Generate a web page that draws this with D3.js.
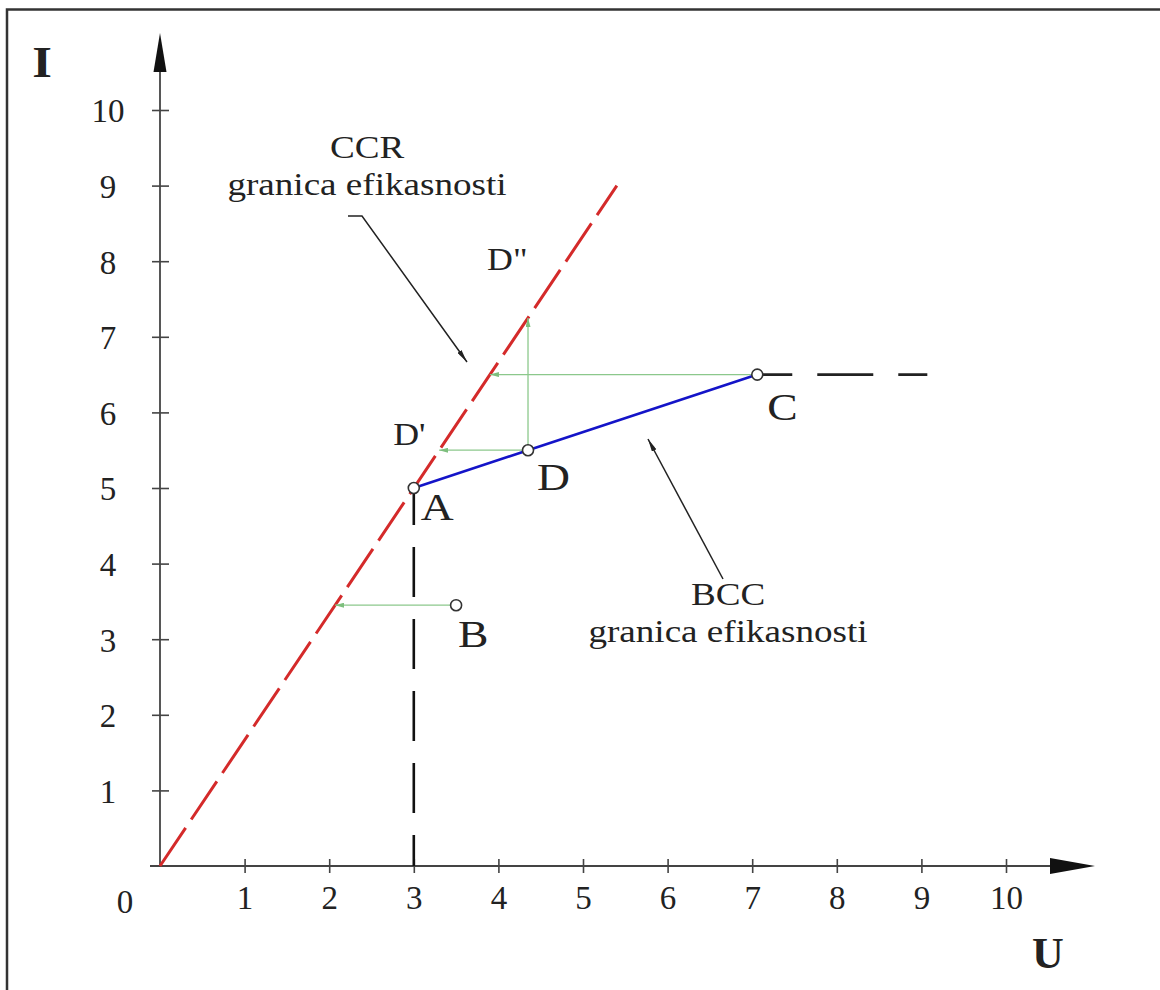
<!DOCTYPE html>
<html>
<head>
<meta charset="utf-8">
<script src="https://cdn.jsdelivr.net/npm/d3@7"></script>
<style>
  html, body { margin: 0; padding: 0; background: #ffffff; }
  svg { display: block; }
  text { font-family: "Liberation Serif", "Times New Roman", serif; fill: #222; }
</style>
</head>
<body>
<svg id="chart" width="1160" height="990"></svg>
<script>
// ---- data ----
const xTicks = [1, 2, 3, 4, 5, 6, 7, 8, 9, 10];
const yTicks = [1, 2, 3, 4, 5, 6, 7, 8, 9, 10];
const pointNames = ["A", "B", "C", "D"];
const pointU = [3, 3.5, 7.06, 4.35];
const pointI = [5, 3.45, 6.5, 5.5];
const ccrU = [0, 5.4];          // CCR frontier I = (5/3) U
const ccrI = [0, 9];
const bccU = [3, 4.35, 7.06];   // BCC frontier A - D - C
const bccI = [5, 5.5, 6.5];
const vertDashU = [3, 3];       // vertical dashed from A down to axis
const vertDashI = [5, 0];
const horDashU = [7.06, 9.07];  // horizontal dashed from C
const horDashI = [6.5, 6.5];
// projections onto CCR frontier
const projFromU = [7.06, 4.35, 4.35, 3.5];
const projFromI = [6.5, 5.5, 5.5, 3.45];
const projToU = [3.9, 3.3, 4.35, 2.07];
const projToI = [6.5, 5.5, 7.25, 3.45];
const primeNames = ["D'", "D\""];
const primeU = [3.3, 4.35];
const primeI = [5.5, 7.25];

// ---- scales ----
const svg = d3.select("#chart");
const x = d3.scaleLinear().domain([0, 10]).range([160, 1006]);
const y = d3.scaleLinear().domain([0, 10]).range([866, 110]);

// frame (cut at right/bottom as in the reference)
svg.append("path").attr("d", "M7,995 L7,9.5 L1165,9.5")
  .attr("fill", "none").attr("stroke", "#333").attr("stroke-width", 2.5);

const defs = svg.append("defs");
function marker(id, color, w, h) {
  defs.append("marker").attr("id", id).attr("viewBox", `0 0 ${w} ${h}`)
    .attr("refX", w).attr("refY", h / 2).attr("markerWidth", w).attr("markerHeight", h)
    .attr("markerUnits", "userSpaceOnUse").attr("orient", "auto")
    .append("path").attr("d", `M0,0 L${w},${h / 2} L0,${h} Z`).attr("fill", color);
}
marker("garrow", "#7dbf7d", 9, 5);
marker("karrow", "#222", 13, 5);

// ---- axes ----
const xAxis = svg.append("g").attr("transform", `translate(0,${y(0)})`)
  .call(d3.axisBottom(x).tickValues(xTicks).tickSize(7).tickPadding(14));
xAxis.select(".domain").remove();
xAxis.selectAll(".tick line").attr("y1", -7).attr("y2", 7).attr("stroke", "#444").attr("stroke-width", 1.6);
xAxis.selectAll(".tick text").attr("font-size", 33).attr("font-family", "Liberation Serif").attr("fill", "#222")
  .attr("dy", "0.68em");

const yAxis = svg.append("g").attr("transform", `translate(${x(0)},0)`)
  .call(d3.axisLeft(y).tickValues(yTicks).tickSize(8).tickPadding(0));
yAxis.select(".domain").remove();
yAxis.selectAll(".tick line").attr("x1", -8).attr("x2", 9).attr("stroke", "#444").attr("stroke-width", 1.6);
yAxis.selectAll(".tick text").attr("font-size", 33).attr("font-family", "Liberation Serif").attr("fill", "#222")
  .attr("text-anchor", "middle").attr("x", -52).attr("dy", "0.36em");

// axis lines with arrow heads
svg.append("line").attr("x1", 150).attr("x2", 1050).attr("y1", y(0)).attr("y2", y(0))
  .attr("stroke", "#444").attr("stroke-width", 1.8);
svg.append("path").attr("d", `M1050,${y(0) - 8} L1095,${y(0)} L1050,${y(0) + 8} Z`).attr("fill", "#111");
svg.append("line").attr("x1", x(0)).attr("x2", x(0)).attr("y1", y(0)).attr("y2", 72)
  .attr("stroke", "#444").attr("stroke-width", 1.8);
svg.append("path").attr("d", `M${x(0) - 6.5},72 L${x(0)},33 L${x(0) + 6.5},72 Z`).attr("fill", "#111");

svg.append("text").text("0").attr("x", 125).attr("y", 913).attr("font-size", 33).attr("text-anchor", "middle");
svg.append("text").text("I").attr("x", 42).attr("y", 77).attr("font-size", 44)
  .attr("font-weight", "bold").attr("text-anchor", "middle").attr("fill", "#111")
  .attr("transform", "translate(42,0) scale(1.15,1) translate(-42,0)");
svg.append("text").text("U").attr("x", 1048).attr("y", 968).attr("font-size", 44)
  .attr("font-weight", "bold").attr("text-anchor", "middle").attr("fill", "#111");

const line = d3.line().x(d => x(d[0])).y(d => y(d[1]));

// black dashed lines
svg.append("path").attr("d", line(d3.zip(vertDashU, vertDashI)))
  .attr("fill", "none").attr("stroke", "#111").attr("stroke-width", 2.6)
  .attr("stroke-dasharray", "50 22").attr("stroke-dashoffset", 13);
svg.append("path").attr("d", line(d3.zip(horDashU, horDashI)))
  .attr("fill", "none").attr("stroke", "#222").attr("stroke-width", 2.6)
  .attr("stroke-dasharray", "56 25").attr("stroke-dashoffset", 21);

// CCR frontier (red dashed)
svg.append("path").attr("d", line(d3.zip(ccrU, ccrI)))
  .attr("fill", "none").attr("stroke", "#d42a2a").attr("stroke-width", 3)
  .attr("stroke-dasharray", "46 10");

// green projection arrows
svg.append("g").selectAll("line").data(d3.range(projFromU.length)).join("line")
  .attr("x1", i => x(projFromU[i])).attr("y1", i => y(projFromI[i]))
  .attr("x2", i => x(projToU[i])).attr("y2", i => y(projToI[i]))
  .attr("stroke", "#8cc88c").attr("stroke-width", 1.3).attr("marker-end", "url(#garrow)");

// BCC frontier (blue)
svg.append("path").attr("d", line(d3.zip(bccU, bccI)))
  .attr("fill", "none").attr("stroke", "#1414c8").attr("stroke-width", 2.6);

// points
svg.append("g").selectAll("circle").data(d3.range(pointNames.length)).join("circle")
  .attr("cx", i => x(pointU[i])).attr("cy", i => y(pointI[i])).attr("r", 5.5)
  .attr("fill", "#fff").attr("stroke", "#333").attr("stroke-width", 1.6);

// stretched text helper (reference glyphs are wider than Liberation Serif)
function stretchedText(parent, str, px, py, size, sx, anchor) {
  return parent.append("g").attr("transform", `translate(${px},${py}) scale(${sx},1)`)
    .append("text").text(str).attr("x", 0).attr("y", 0)
    .attr("font-size", size).attr("text-anchor", anchor || "start").attr("fill", "#111");
}

// point labels
const labOff = { A: [7, 32], B: [2, 42], C: [10, 45], D: [9, 40] };
const labG = svg.append("g");
pointNames.forEach((n, i) => {
  stretchedText(labG, n, x(pointU[i]) + labOff[n][0], y(pointI[i]) + labOff[n][1], 38, 1.2);
});

const primeOff = [[-46, -5], [-41, -48]];
primeNames.forEach((n, i) => {
  stretchedText(labG, n, x(primeU[i]) + primeOff[i][0], y(primeI[i]) + primeOff[i][1], 32, 1.12);
});

// annotations
function note(lines, cx, y0, dy) {
  lines.forEach((s, k) => {
    stretchedText(svg, s, cx, y0 + k * dy, 32, 1.16, "middle").attr("fill", "#222");
  });
}
note(["CCR", "granica efikasnosti"], 367, 158, 37);
note(["BCC", "granica efikasnosti"], 728, 605, 37);

svg.append("path").attr("d", "M348,216 L362,216 L467,362")
  .attr("fill", "none").attr("stroke", "#222").attr("stroke-width", 1.5).attr("marker-end", "url(#karrow)");
svg.append("path").attr("d", "M723,579 L648,439")
  .attr("fill", "none").attr("stroke", "#222").attr("stroke-width", 1.5).attr("marker-end", "url(#karrow)");
</script>
</body>
</html>
